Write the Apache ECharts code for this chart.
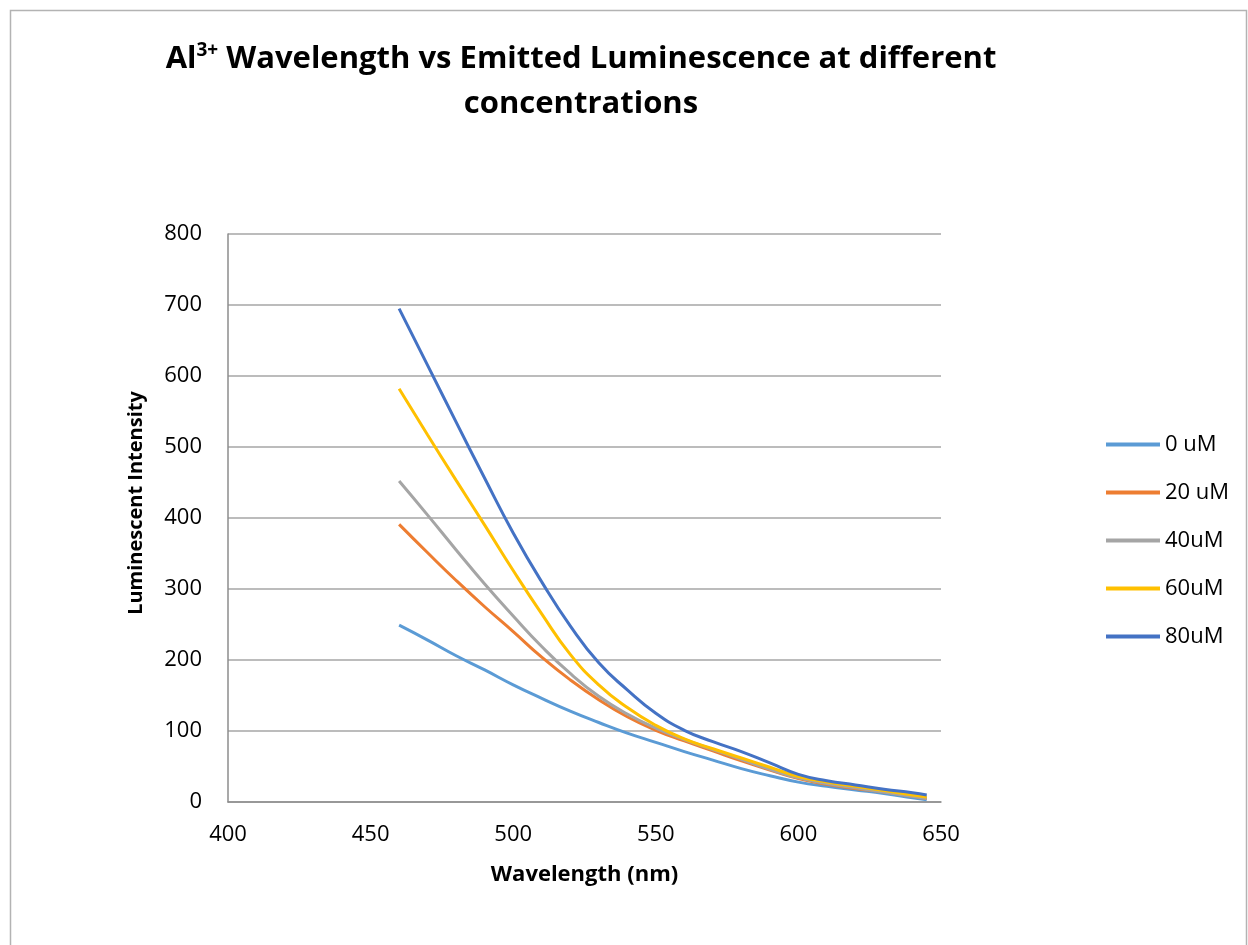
<!DOCTYPE html>
<html>
<head>
<meta charset="utf-8">
<script src="https://cdn.jsdelivr.net/npm/echarts@6/dist/echarts.min.js"></script>
<style>html,body{margin:0;padding:0;background:#fff;}#c{width:1248px;height:945px;}</style>
</head>
<body>
<div id="c"></div>
<script>
var wavelengths = [460, 470, 480, 490, 500, 510, 520, 530, 540, 550, 560, 570, 580, 590, 600, 610, 620, 630, 640, 645];
var seriesNames = ['0 uM', '20 uM', '40uM', '60uM', '80uM'];
var s0uM  = [249, 228, 206, 186, 165, 146, 128, 112, 97, 84, 71, 59, 47, 37, 28, 22, 17, 12, 6, 3];
var s20uM = [391, 351, 312, 275, 240, 204, 172, 144, 120, 101, 86, 72, 58, 45, 33, 25, 19, 14, 8, 5];
var s40uM = [452, 404, 355, 307, 262, 219, 181, 149, 124, 104, 88, 74, 60, 46, 34, 26, 20, 14, 8, 5];
var s60uM = [582, 517, 453, 390, 326, 265, 208, 165, 133, 108, 89, 75, 62, 49, 36, 28, 22, 16, 10, 7];
var s80uM = [695, 615, 535, 456, 379, 310, 248, 196, 158, 125, 101, 85, 71, 55, 39, 30, 24, 18, 13, 10];
var xTicks = [400, 450, 500, 550, 600, 650];
var yTicks = [0, 100, 200, 300, 400, 500, 600, 700, 800];
var colors = ['#5B9BD5', '#ED7D31', '#A5A5A5', '#FFC000', '#4472C4'];

var allSeries = [s0uM, s20uM, s40uM, s60uM, s80uM];
var chart = echarts.init(document.getElementById('c'));
var FONT = 'Open Sans';
chart.setOption({
  animation: false,
  backgroundColor: '#fff',
  color: colors,
  graphic: [{
    type: 'rect', silent: true,
    shape: {x: 10.5, y: 10.5, width: 1236, height: 960},
    style: {fill: 'none', stroke: '#b3b3b3', lineWidth: 1.5}
  }],
  title: {
    text: '{b|Al}{s|3+}{b| Wavelength vs Emitted Luminescence at different}\n{b|concentrations}',
    left: 576, top: 32, textAlign: 'center',
    textStyle: {
      rich: {
        b: {fontFamily: FONT, fontWeight: 'bold', fontSize: 31, color: '#000', lineHeight: 45},
        s: {fontFamily: FONT, fontWeight: 'bold', fontSize: 19, color: '#000', lineHeight: 45, padding: [0, 0, 17, 0]}
      }
    }
  },
  legend: {
    orient: 'vertical', left: 1101, top: 424,
    icon: 'rect', itemWidth: 54, itemHeight: 4, itemGap: 17,
    textStyle: {fontFamily: FONT, fontSize: 22, color: '#000', lineHeight: 31},
    data: seriesNames
  },
  grid: {left: 228, right: 307, top: 234, bottom: 143},
  xAxis: {
    type: 'value', min: xTicks[0], max: xTicks[xTicks.length - 1], interval: 50,
    name: 'Wavelength (nm)', nameLocation: 'middle', nameGap: 62,
    nameTextStyle: {fontFamily: FONT, fontWeight: 'bold', fontSize: 22, color: '#000'},
    axisLine: {show: true, lineStyle: {color: '#8c8c8c', width: 1.5}},
    axisTick: {show: false},
    splitLine: {show: false},
    axisLabel: {fontFamily: FONT, fontSize: 22, color: '#000', margin: 22}
  },
  yAxis: {
    type: 'value', min: yTicks[0], max: yTicks[yTicks.length - 1], interval: 100,
    name: 'Luminescent Intensity', nameLocation: 'middle', nameGap: 82,
    nameTextStyle: {fontFamily: FONT, fontWeight: 'bold', fontSize: 20, color: '#000', padding: [0, 0, 0, 30]},
    axisLine: {show: true, lineStyle: {color: '#8c8c8c', width: 1.5}},
    axisTick: {show: false},
    splitLine: {show: true, lineStyle: {color: '#a6a6a6', width: 1.5}},
    axisLabel: {fontFamily: FONT, fontSize: 22, color: '#000', margin: 26}
  },
  series: seriesNames.map(function (n, i) {
    return {
      name: n, type: 'line', smooth: 0.5, symbol: 'none',
      lineStyle: {width: 3, color: colors[i]},
      data: wavelengths.map(function (w, j) { return [w, allSeries[i][j]]; })
    };
  })
});
</script>
</body>
</html>
